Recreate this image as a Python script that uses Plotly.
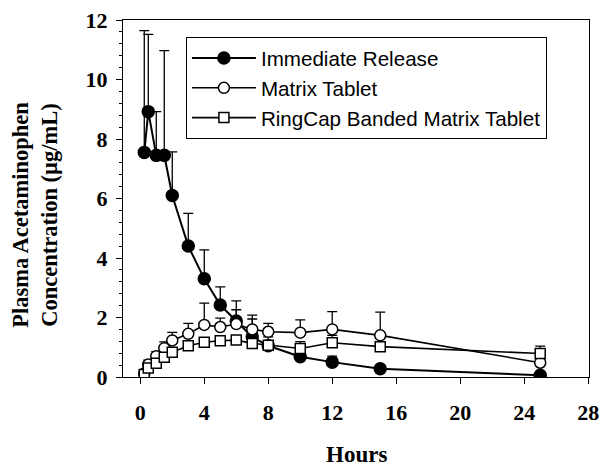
import plotly.graph_objects as go

hours = [0.25, 0.5, 1, 1.5, 2, 3, 4, 5, 6, 7, 8, 10, 12, 15, 25]

ir_mean = [7.55, 8.92, 7.45, 7.45, 6.1, 4.4, 3.3, 2.42, 1.88, 1.35, 1.05, 0.68, 0.5, 0.28, 0.06]
ir_sd = [4.09, 2.6, 1.47, 3.52, 1.47, 1.1, 0.97, 0.61, 0.68, 0.73, 0.3, 0.12, 0.2, 0.1, 0.02]

mt_mean = [0.12, 0.42, 0.7, 0.97, 1.23, 1.45, 1.75, 1.68, 1.78, 1.6, 1.52, 1.49, 1.6, 1.4, 0.48]
mt_sd = [0.05, 0.15, 0.15, 0.21, 0.27, 0.35, 0.73, 0.3, 0.48, 0.35, 0.28, 0.43, 0.6, 0.78, 0.3]

rc_mean = [0.08, 0.3, 0.46, 0.66, 0.83, 1.05, 1.17, 1.22, 1.24, 1.13, 1.07, 0.96, 1.15, 1.02, 0.79]
rc_sd = [0.03, 0.08, 0.1, 0.1, 0.12, 0.1, 0.1, 0.1, 0.1, 0.1, 0.1, 0.23, 0.25, 0.1, 0.25]

names = ["Immediate Release", "Matrix Tablet", "RingCap Banded Matrix Tablet"]

x_ticks = [0, 4, 8, 12, 16, 20, 24, 28]
y_ticks = [0, 2, 4, 6, 8, 10, 12]

fig = go.Figure()

def add_series(name, y, err, symbol, fill, size, lw):
    fig.add_trace(go.Scatter(
        x=hours, y=y, name=name, mode="lines+markers",
        line=dict(color="black", width=lw),
        marker=dict(symbol=symbol, size=size, color=fill,
                    line=dict(color="black", width=1.5)),
        error_y=dict(type="data", array=err, arrayminus=[0] * len(err),
                     symmetric=False, color="black", thickness=1.3, width=5),
    ))

add_series(names[0], ir_mean, ir_sd, "circle", "black", 12, 2)
add_series(names[1], mt_mean, mt_sd, "circle", "white", 11, 1.6)
add_series(names[2], rc_mean, rc_sd, "square", "white", 10, 1.6)

axis_font = dict(family="Liberation Serif", size=22, color="black", weight="bold")

fig.update_layout(
    width=604, height=468,
    margin=dict(l=123, r=15, t=20, b=91, autoexpand=False),
    paper_bgcolor="white", plot_bgcolor="white",
    showlegend=True,
    legend=dict(
        x=0.135, y=0.952, xanchor="left", yanchor="top",
        bordercolor="black", borderwidth=1, bgcolor="white",
        font=dict(family="Liberation Sans", size=20.6, color="black"),
        itemwidth=64, tracegroupgap=0,
    ),
    xaxis=dict(
        range=[-1.08, 28.05], tickvals=x_ticks, ticktext=[str(v) for v in x_ticks],
        showgrid=False, zeroline=False, showline=True, linecolor="black", linewidth=1,
        mirror=True, ticks="outside", ticklen=6, tickcolor="black", automargin=False,
        tickfont=axis_font, ticklabelstandoff=10,
    ),
    yaxis=dict(
        range=[0, 12], tickvals=y_ticks, ticktext=[str(v) for v in y_ticks],
        showgrid=False, zeroline=False, showline=True, linecolor="black", linewidth=1,
        mirror=True, ticks="outside", ticklen=6, tickcolor="black", automargin=False,
        tickfont=axis_font, ticklabelstandoff=4,
        minor=dict(dtick=0.4, ticks="outside", ticklen=3, tickcolor="black", showgrid=False),
    ),
    annotations=[
        dict(text="<b>Hours</b>", xref="paper", yref="paper", x=0.5, y=-0.218,
             showarrow=False, xanchor="center", yanchor="middle",
             font=dict(family="Liberation Serif", size=23, color="black")),
        dict(text="<b>Plasma Acetaminophen<br>Concentration (µg/mL)</b>",
             xref="paper", yref="paper", x=-0.189, y=0.454, textangle=-90,
             showarrow=False, xanchor="center", yanchor="middle",
             font=dict(family="Liberation Serif", size=22.5, color="black")),
    ],
)

fig.write_html("out.html", config={"displayModeBar": False},
               post_script="document.body.style.margin='0';document.body.style.overflow='hidden';")
